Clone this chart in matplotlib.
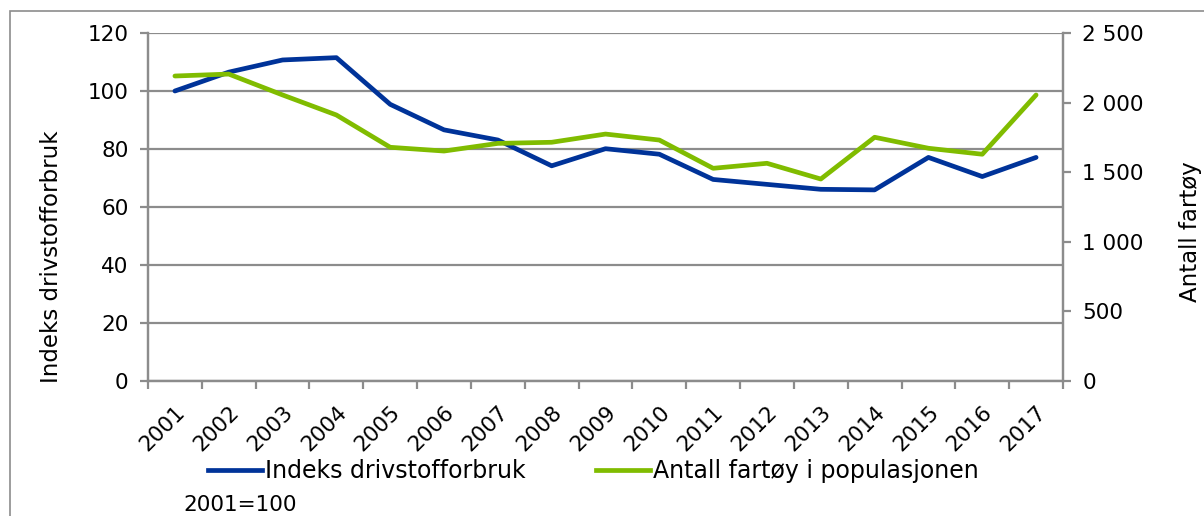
import matplotlib
matplotlib.use("Agg")
import matplotlib.pyplot as plt
from matplotlib.lines import Line2D
from matplotlib.patches import Rectangle
from matplotlib.ticker import FuncFormatter

years = ["2001", "2002", "2003", "2004", "2005", "2006", "2007", "2008", "2009",
         "2010", "2011", "2012", "2013", "2014", "2015", "2016", "2017"]
indeks = [100, 106.5, 110.7, 111.5, 95.4, 86.6, 83.1, 74.2, 80.1,
          78.2, 69.5, 67.8, 66.1, 65.9, 77.1, 70.5, 77.1]
antall = [2191, 2205, 2055, 1911, 1679, 1652, 1707, 1715, 1774,
          1731, 1528, 1564, 1451, 1751, 1672, 1629, 2055]
left_ticks = [0, 20, 40, 60, 80, 100, 120]
right_ticks = [0, 500, 1000, 1500, 2000, 2500]

blue = "#003399"
green = "#80BC00"
grey = "#8C8C8C"

plt.rcParams['font.family'] = ['DejaVu Sans']

fig = plt.figure(figsize=(12.04, 5.16), dpi=100)
ax = fig.add_axes([148/1204, 1-381/516, (1063-148)/1204, (381-33)/516])
ax2 = ax.twinx()

x = list(range(len(years)))
ax.plot(x, indeks, color=blue, lw=3.4, solid_capstyle='round', zorder=3)
ax2.plot(x, antall, color=green, lw=3.4, solid_capstyle='round', zorder=3)
ax.set_xlim(-0.5, len(years) - 0.5)
ax.set_ylim(0, 120)
ax2.set_ylim(0, 2500)

ax.set_yticks(left_ticks)
ax.set_yticklabels([str(v) for v in left_ticks])
ax2.set_yticks(right_ticks)
ax2.yaxis.set_major_formatter(FuncFormatter(lambda v, p: f"{int(v):,}".replace(",", " ")))

ax.grid(axis='y', color=grey, lw=1.6)
ax.set_axisbelow(True)

ax.set_xticks([i - 0.5 for i in range(len(years) + 1)])
ax.set_xticklabels([])
ax.set_xticks(x, minor=True)
ax.set_xticklabels(years, minor=True, rotation=45, ha='right', va='top',
                   rotation_mode='anchor', fontsize=15.5)
ax.tick_params(axis='x', which='minor', length=0, pad=15)
ax.tick_params(axis='x', which='major', length=6, width=1.6, color=grey)
ax.tick_params(axis='y', length=6, width=1.6, color=grey, labelsize=15.5, pad=8)
ax2.tick_params(axis='y', length=6, width=1.6, color=grey, labelsize=15.5, pad=8)

for a in (ax, ax2):
    for s in a.spines.values():
        s.set_color(grey)
        s.set_linewidth(1.6)
    a.spines['top'].set_visible(False)

ax.set_ylabel("Indeks drivstofforbruk", fontsize=16.5)
ax.yaxis.set_label_coords(-0.093, 0.357)
ax2.set_ylabel("Antall fartøy", fontsize=16.5)
ax2.yaxis.set_label_coords(1.127, 0.43)

handles = [Line2D([], [], color=blue, lw=3.4), Line2D([], [], color=green, lw=3.4)]
fig.legend(handles, ["Indeks drivstofforbruk", "Antall fartøy i populasjonen"],
           loc='center left', bbox_to_anchor=(208/1204, 1-471/516), ncol=2,
           frameon=False, fontsize=17, handlelength=2.3, handletextpad=0.1,
           columnspacing=3.0, borderaxespad=0, borderpad=0)
fig.text(183/1204, 1-505/516, "2001=100", fontsize=15.5, va='center', ha='left')

fig.patches.append(Rectangle((10/1204, -0.1), 1.2, 1 - 11/516 + 0.1,
                             transform=fig.transFigure, fill=False,
                             edgecolor=grey, lw=1.2, zorder=0))

fig.savefig("out.png", dpi=100)
